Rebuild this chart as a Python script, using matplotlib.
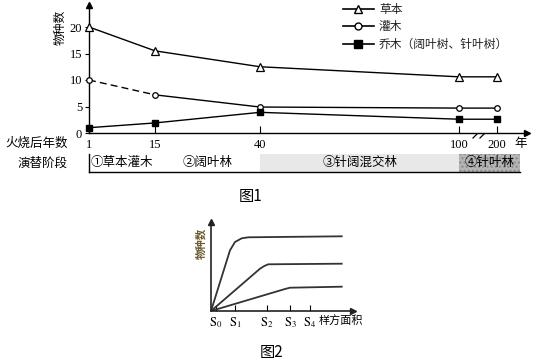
import numpy as np
import matplotlib
matplotlib.use('Agg')
import matplotlib.pyplot as plt
from matplotlib.lines import Line2D

plt.rcParams['mathtext.fontset'] = 'stix'
MIX = ['Liberation Serif', 'Noto Sans CJK SC']
CJK = ['Noto Sans CJK SC', 'DejaVu Sans']

# ---- figure 1 data ----
years = [1, 15, 40, 100, 200]
herb = [20, 15.5, 12.5, 10.6, 10.6]
shrub = [10, 7.2, 4.9, 4.7, 4.7]
tree = [1.0, 1.9, 3.9, 2.6, 2.6]
year_ticks = ['1', '15', '40', '100', '200']
y_ticks = [0, 5, 10, 15, 20]
legend_labels = ['草本', '灌木', '乔木（阔叶树、针叶树）']

stage_labels = ['①草本灌木', '②阔叶林', '③针阔混交林', '④针叶林']
stage_edges = [1, 15, 40, 100, 260]
stage_colors = ['white', 'white', '#e8e8e8', '#b6b6b6']

# ---- figure 2 data ----
s_ticks = [5, 24, 56, 79, 99]
s_labels = [r'$\mathrm{S}_0$', r'$\mathrm{S}_1$', r'$\mathrm{S}_2$', r'$\mathrm{S}_3$', r'$\mathrm{S}_4$']
top_x = [0, 19, 24, 30.7, 37.3, 130.7]
top_y = [0, 60.7, 69, 72.7, 73.7, 74.7]
mid_x = [0, 49, 53.3, 57.3, 130.7]
mid_y = [0, 42.3, 45, 46.7, 47.3]
low_x = [0, 74, 79, 130.7]
low_y = [0, 22, 23.3, 24.3]

# broken/uneven year axis
YEAR_KNOTS = [1, 15, 40, 100, 200, 300]
POS_KNOTS = [0, 66, 171, 370, 408, 446]


def fwd(x):
    return np.interp(x, YEAR_KNOTS, POS_KNOTS)


def inv(p):
    return np.interp(p, POS_KNOTS, YEAR_KNOTS)


W, H = 537, 363
fig = plt.figure(figsize=(W / 100, H / 100), dpi=100)


def px_axes(x0, y0, x1, y1):
    # pixel box (top-left origin) -> figure axes
    return fig.add_axes([x0 / W, 1 - y1 / H, (x1 - x0) / W, (y1 - y0) / H])


ov = fig.add_axes([0, 0, 1, 1])
ov.set_xlim(0, W)
ov.set_ylim(H, 0)
ov.axis('off')

# ---------------- figure 1 ----------------
ax1 = px_axes(89, 5, 527, 133)
ax1.set_xscale('function', functions=(fwd, inv))
ax1.set_xlim(1, inv(438))
ax1.set_ylim(0, 128 / 5.3)

ax1.plot(years, herb, color='k', lw=1, marker='^', ms=6, mfc='white', mec='k', mew=0.9, clip_on=False, zorder=3)
ax1.plot(years[:2], shrub[:2], color='k', lw=1, ls=(0, (5, 3)), clip_on=False)
ax1.plot(years[1:], shrub[1:], color='k', lw=1, clip_on=False)
ax1.plot(years, shrub, ls='none', marker='o', ms=4, mfc='white', mec='k', mew=0.9, clip_on=False, zorder=3)
ax1.plot(years, tree, color='k', lw=1, marker='s', ms=5, mfc='k', mec='k', clip_on=False, zorder=3)

for s in ['top', 'right']:
    ax1.spines[s].set_visible(False)
for s in ['left', 'bottom']:
    ax1.spines[s].set_linewidth(1)
ax1.plot(0, 1, marker='^', ms=5, color='k', transform=ax1.transAxes, clip_on=False)
ax1.plot(1, 0, marker='>', ms=5, color='k', transform=ax1.transAxes, clip_on=False)

ax1.set_xticks(years)
ax1.set_xticklabels(year_ticks, family='Liberation Serif', fontsize=9)
ax1.tick_params(axis='x', direction='in', length=5, width=0.8, pad=4)
ax1.set_yticks(y_ticks)
ax1.set_yticklabels([str(v) for v in y_ticks], family='Liberation Serif', fontsize=9)
ax1.tick_params(axis='y', direction='out', length=3, width=0.8, pad=2)

h1 = Line2D([], [], color='k', lw=1.2, marker='^', ms=6, mfc='white', mec='k')
h2 = Line2D([], [], color='k', lw=1.2, marker='o', ms=5, mfc='white', mec='k')
h3 = Line2D([], [], color='k', lw=1.2, marker='s', ms=6, mfc='k', mec='k')
leg = ax1.legend([h1, h2, h3], legend_labels, loc='upper left',
                 bbox_to_anchor=(343 / W, 1 - 3 / H), bbox_transform=fig.transFigure,
                 frameon=False, handlelength=2.6, handletextpad=0.45, labelspacing=0.38,
                 borderpad=0, borderaxespad=0, numpoints=1, prop={'family': CJK, 'size': 8.5})
for t in leg.get_texts():
    t.set_color('#222222')

ov.text(60, 27, '物种数', rotation=90, ha='center', va='center', family=CJK, fontsize=8.5)
ov.text(68, 143, '火烧后年数', ha='right', va='center', family=CJK, fontsize=9)
ov.text(68, 163, '演替阶段', ha='right', va='center', family=CJK, fontsize=9)
ov.text(514, 143, '年', ha='left', va='center', family=CJK, fontsize=9)
for dx in (0, 7):
    ov.plot([473 + dx, 483 + dx], [138, 128], color='k', lw=0.9)

# stage bar
axs = px_axes(89, 154, 520, 172)
axs.set_xscale('function', functions=(fwd, inv))
axs.set_xlim(stage_edges[0], stage_edges[-1])
axs.set_ylim(0, 1)
for i, lab in enumerate(stage_labels):
    a, b = stage_edges[i], stage_edges[i + 1]
    if i == 3:
        axs.axvspan(a, b, facecolor=stage_colors[i], edgecolor='#8a8a8a', hatch='....', lw=0)
    else:
        axs.axvspan(a, b, color=stage_colors[i], lw=0)
    xm = inv((fwd(a) + fwd(b)) / 2)
    axs.text(xm, 0.5, lab, ha='center', va='center', family=MIX, fontsize=9)
axs.set_xticks([])
axs.set_yticks([])
axs.spines['top'].set_visible(False)
axs.spines['right'].set_visible(False)
axs.spines['left'].set_linewidth(1)
axs.spines['bottom'].set_linewidth(1)

ov.text(251, 197, '图1', ha='center', va='center', family=CJK, fontsize=11)

# ---------------- figure 2 ----------------
ax2 = px_axes(211, 222, 353, 311)
ax2.set_xlim(0, 142)
ax2.set_ylim(0, 89)
for xs, ys in [(top_x, top_y), (mid_x, mid_y), (low_x, low_y)]:
    ax2.plot(xs, ys, color='#333333', lw=1.3, solid_joinstyle='round')
for s in ['top', 'right']:
    ax2.spines[s].set_visible(False)
for s in ['left', 'bottom']:
    ax2.spines[s].set_linewidth(1.2)
    ax2.spines[s].set_color('#222222')
ax2.plot(0, 1, marker='^', ms=4, color='#222222', transform=ax2.transAxes, clip_on=False)
ax2.plot(1, 0, marker='>', ms=4, color='#222222', transform=ax2.transAxes, clip_on=False)
ax2.set_yticks([])
ax2.set_xticks(s_ticks)
ax2.set_xticklabels(s_labels, fontsize=9)
ax2.tick_params(axis='x', direction='in', length=4, width=0.8, pad=3)

ov.text(201, 243, '物种数', rotation=90, ha='center', va='center', family=CJK,
        fontsize=7.5, fontweight='bold', color='#6b5a2e')
ov.text(319, 320, '样方面积', ha='left', va='center', family=CJK, fontsize=8)
ov.text(272, 352, '图2', ha='center', va='center', family=CJK, fontsize=11)

fig.savefig('out.png', dpi=100)
